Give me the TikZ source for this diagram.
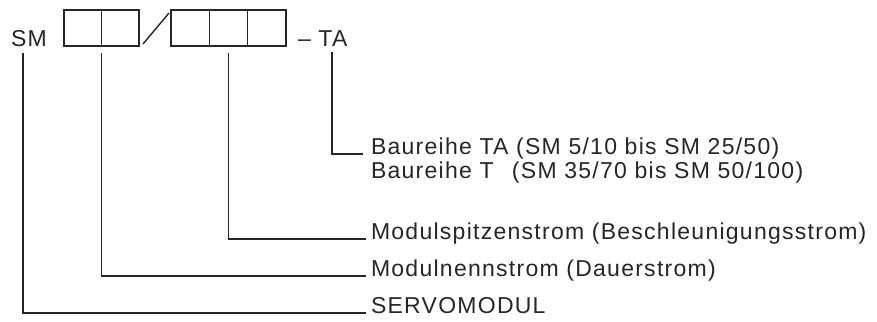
\documentclass[tikz,border=0pt]{standalone}
\usepackage{fontspec}
\setmainfont{Liberation Sans}[LetterSpace=5.5]
\begin{document}
\begin{tikzpicture}[x=1pt,y=-1pt,
  lbl/.style={anchor=base west, inner sep=0pt, outer sep=0pt, font=\fontsize{23}{27}\selectfont, text=black!85},
  cell/.style={draw=black!85, line width=1.6pt, minimum width=37.5pt, minimum height=36pt, inner sep=0pt, outer sep=0pt},
  cellb/.style={cell, minimum width=38.3pt},
  conn/.style={draw=black!85, line width=1.2pt}]
\useasboundingbox (0,0) rectangle (877,321);
% code boxes
\node[cell, anchor=north west] (a1) at (64,10) {};
\node[cell, anchor=west] (a2) at (a1.east) {};
\node[cellb, anchor=north west] (b1) at (171,10) {};
\node[cellb, anchor=west] (b2) at (b1.east) {};
\node[cellb, anchor=west] (b3) at (b2.east) {};
\coordinate (s1) at (143,44);
\coordinate (s2) at (169,13);
\draw[conn, line width=1.4pt] (s1) -- (s2);
% top labels
\node[lbl] (sm) at (11,47) {SM};
\node[lbl] (ta) at (298,47) {– TA};
% descriptions
\node[lbl] (br1) at (371,154) {Baureihe TA (SM 5/10 bis SM 25/50)};
\node[lbl] (br2) at (371,178) {Baureihe T\hspace{0.8em}(SM 35/70 bis SM 50/100)};
\node[lbl] (msp) at (371,239) {Modulspitzenstrom (Beschleunigungsstrom)};
\node[lbl] (mnn) at (371,276) {Modulnennstrom (Dauerstrom)};
\node[lbl] (srv) at (371,313) {SERVOMODUL};
% connector start points
\coordinate (p0) at (23,53);
\coordinate (p3) at (332,52);
% connectors
\draw[conn] (p0) |- ([xshift=-5pt]srv.base west);
\draw[conn] ([yshift=-7pt]a1.south east) |- ([xshift=-5pt]mnn.base west);
\draw[conn] ([yshift=-7pt]b2.south) |- ([xshift=-5pt]msp.base west);
\draw[conn] (p3) |- ([xshift=-8pt]br1.base west);
\end{tikzpicture}
\end{document}
